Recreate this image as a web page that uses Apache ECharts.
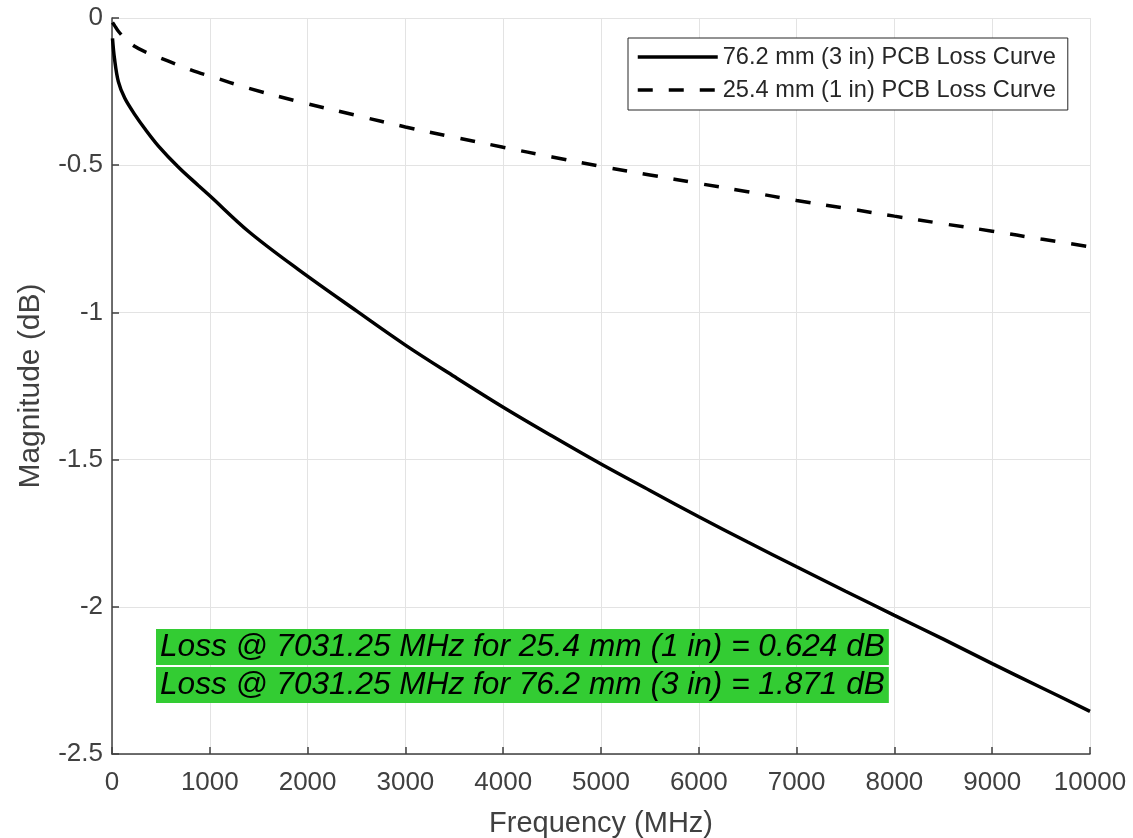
<!DOCTYPE html>
<html>
<head>
<meta charset="utf-8">
<script src="https://cdn.jsdelivr.net/npm/echarts@6/dist/echarts.min.js"></script>
<style>
html,body{margin:0;padding:0;background:#fff;}
#chart{width:1133px;height:838px;}
</style>
</head>
<body>
<div id="chart"></div>
<script>
// Frequency samples (MHz)
const freqMHz = [5, 25, 65, 130, 235, 340, 475, 680, 880, 1000, 1400, 1900, 2500, 3000, 3500, 4000, 4500, 5000, 5500, 6000, 6500, 7000, 7500, 8000, 8500, 9000, 9500, 10000];
// 76.2 mm (3 in) PCB loss (dB)
const loss3in = [-0.069, -0.137, -0.216, -0.272, -0.329, -0.378, -0.435, -0.507, -0.568, -0.604, -0.726, -0.853, -0.995, -1.111, -1.218, -1.322, -1.42, -1.515, -1.605, -1.694, -1.78, -1.864, -1.947, -2.029, -2.11, -2.193, -2.274, -2.355];
// 25.4 mm (1 in) PCB loss (dB)
const loss1in = [-0.015, -0.025, -0.045, -0.068, -0.097, -0.115, -0.133, -0.16, -0.185, -0.197, -0.239, -0.283, -0.331, -0.37, -0.405, -0.439, -0.472, -0.504, -0.533, -0.562, -0.59, -0.62, -0.646, -0.673, -0.699, -0.724, -0.751, -0.777];
const seriesNames = ['76.2 mm (3 in) PCB Loss Curve', '25.4 mm (1 in) PCB Loss Curve'];
const annotations = ['Loss @ 7031.25 MHz for 25.4 mm (1 in) = 0.624 dB', 'Loss @ 7031.25 MHz for 76.2 mm (3 in) = 1.871 dB'];

const FONT = '"Liberation Sans", Arial, Helvetica, sans-serif';
const chart = echarts.init(document.getElementById('chart'), null, {renderer: 'canvas'});
const pairs = (ys) => freqMHz.map((f, i) => [f, ys[i]]);

chart.setOption({
  backgroundColor: '#ffffff',
  animation: false,
  textStyle: {fontFamily: FONT},
  title: annotations.map((t, i) => ({
    text: t,
    left: 156,
    top: 629 + i * 38,
    padding: [1, 4, 1, 4],
    backgroundColor: '#33cc33',
    textStyle: {fontFamily: FONT, fontSize: 31.6, fontStyle: 'italic', fontWeight: 'normal', color: '#000', lineHeight: 34}
  })),
  legend: {
    orient: 'vertical',
    left: 628,
    top: 38,
    padding: [6, 12, 7, 8],
    itemGap: 7,
    itemWidth: 80,
    itemHeight: 20,
    borderColor: '#262626',
    borderWidth: 1,
    backgroundColor: '#ffffff',
    itemStyle: {color: 'rgba(0,0,0,0)', borderColor: 'rgba(0,0,0,0)', borderWidth: 0, opacity: 0},
    lineStyle: {width: 3.5, color: '#000'},
    textStyle: {fontFamily: FONT, fontSize: 23.6, color: '#262626', lineHeight: 26},
    data: seriesNames
  },
  grid: {left: 112, right: 43, top: 18, bottom: 84, containLabel: false, outerBoundsMode: 'none'},
  xAxis: {
    type: 'value',
    min: 0, max: 10000, interval: 1000,
    name: 'Frequency (MHz)',
    nameLocation: 'middle',
    nameGap: 55,
    nameTextStyle: {fontFamily: FONT, fontSize: 29, color: '#404040'},
    axisLine: {show: true, onZero: false, lineStyle: {color: '#404040', width: 1.5}},
    axisTick: {show: true, inside: true, length: 7, lineStyle: {color: '#404040', width: 1.5}},
    axisLabel: {fontFamily: FONT, fontSize: 26, color: '#404040', margin: 16, formatter: (v) => String(v)},
    splitLine: {show: true, lineStyle: {color: '#e3e3e3', width: 1}}
  },
  yAxis: {
    type: 'value',
    min: -2.5, max: 0, interval: 0.5,
    name: 'Magnitude (dB)',
    nameLocation: 'middle',
    nameGap: 66,
    nameTextStyle: {fontFamily: FONT, fontSize: 30, color: '#404040'},
    axisLine: {show: true, onZero: false, lineStyle: {color: '#404040', width: 1.5}},
    axisTick: {show: true, inside: true, length: 7, lineStyle: {color: '#404040', width: 1.5}},
    axisLabel: {fontFamily: FONT, fontSize: 26, color: '#404040', margin: 9, formatter: (v) => String(v)},
    splitLine: {show: true, lineStyle: {color: '#e3e3e3', width: 1}}
  },
  series: [
    {
      name: seriesNames[0],
      type: 'line',
      smooth: 0.35,
      symbol: 'none',
      data: pairs(loss3in),
      lineStyle: {color: '#000', width: 3.5, type: 'solid'},
      itemStyle: {color: '#000'}
    },
    {
      name: seriesNames[1],
      type: 'line',
      smooth: 0.35,
      symbol: 'none',
      data: pairs(loss1in),
      lineStyle: {color: '#000', width: 3.5, type: [15, 16]},
      itemStyle: {color: '#000'}
    }
  ]
});
</script>
</body>
</html>
